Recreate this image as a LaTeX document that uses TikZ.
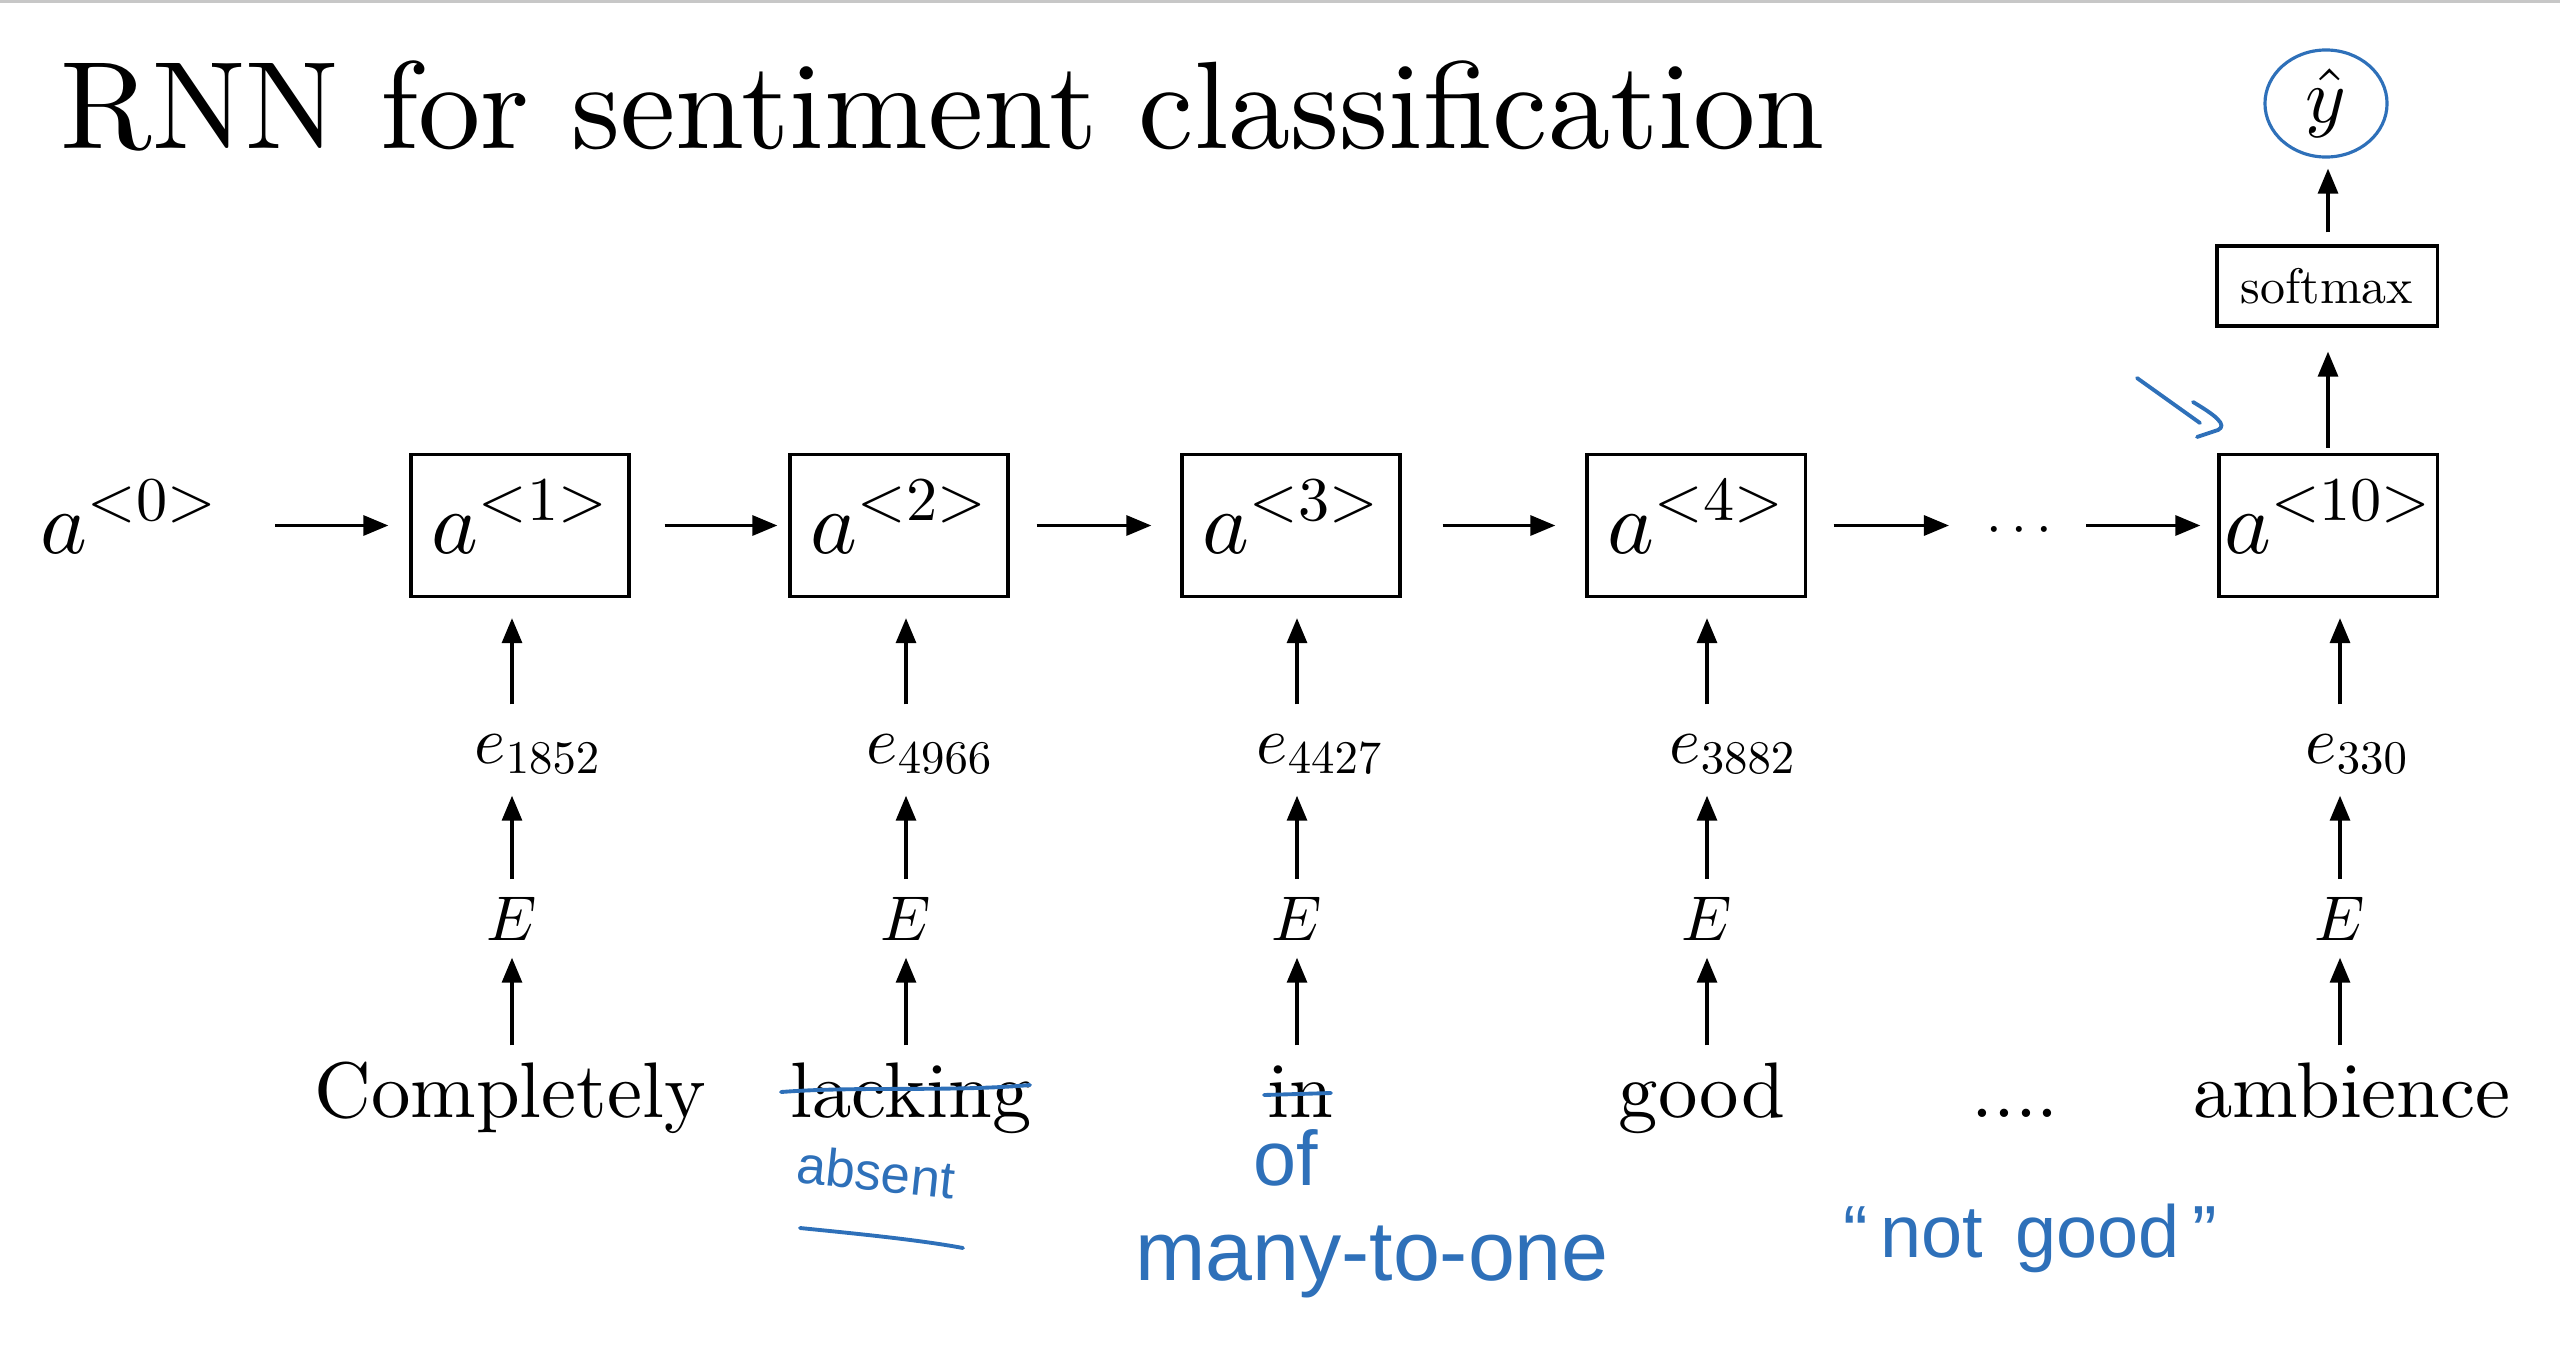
\documentclass[tikz,border=0pt]{standalone}
\usepackage{fontspec}
\setmainfont{lmroman10-regular.otf}
\DeclareFontShape{OML}{cmm}{m}{it}{<->cmmi10}{}
\DeclareFontShape{OMS}{cmsy}{m}{n}{<->cmsy10}{}
\DeclareFontShape{OT1}{cmr}{m}{n}{<->cmr10}{}
\newfontfamily\handfont{Liberation Sans}
\usetikzlibrary{arrows.meta,shapes.geometric}
\definecolor{handblue}{RGB}{46,112,185}
\tikzset{
  rnnbox/.style={draw, line width=0.9pt, minimum width=2.18cm, minimum height=1.42cm,
    inner sep=0pt, text height=0.71cm, text depth=0.16cm, font=\fontsize{25.3}{30}\selectfont},
  arr/.style={-{Triangle[length=0.25cm,width=0.2cm]}, line width=0.9pt},
  word/.style={anchor=base, inner sep=0pt, text height=0.55cm, text depth=0.155cm,
    font=\fontsize{22.4}{27}\selectfont},
  emb/.style={anchor=base west, inner sep=0pt, text height=0.27cm, text depth=0.13cm,
    font=\fontsize{19}{23}\selectfont},
  Emat/.style={anchor=base, inner sep=0pt, font=\fontsize{18}{22}\selectfont},
  hand/.style={text=handblue, inner sep=0pt},
  handline/.style={draw=handblue, line width=1.1pt, line cap=round, line join=round},
}
\begin{document}
\begin{tikzpicture}[x=0.01cm,y=-0.01cm]
\useasboundingbox (0,0) rectangle (2560,1354);
\draw[black!22, line width=1.2pt] (0,1) -- (2560,1);

% title
\node[anchor=base west, inner sep=0pt, font=\fontsize{35.4}{42}\selectfont] (title) at (60,148)
  {RNN for sentiment classification};

% recurrent chain
\node[anchor=base west, inner sep=0pt, font=\fontsize{25.3}{30}\selectfont] (a0) at (40,553) {$a^{<0>}$};
\node[rnnbox] (b1) at (520,525.5) {$a^{<1>}$};
\node[rnnbox] (b2) at (899,525.5) {$a^{<2>}$};
\node[rnnbox] (b3) at (1291,525.5) {$a^{<3>}$};
\node[rnnbox] (b4) at (1696,525.5) {$a^{<4>}$};
\node[anchor=base, inner sep=0pt, font=\fontsize{16}{20}\selectfont] (dots) at (2019.5,543) {$\cdots$};
\node[rnnbox] (b10) at (2328,525.5) {$a^{<10>}$};

\draw[arr, shorten <=0.57cm, shorten >=0.21cm] (a0.east |- b1.west) -- (b1.west);
\draw[arr, shorten <=0.34cm, shorten >=0.11cm] (b1.east) -- (b2.west);
\draw[arr, shorten <=0.27cm, shorten >=0.29cm] (b2.east) -- (b3.west);
\draw[arr, shorten <=0.41cm, shorten >=0.30cm] (b3.east) -- (b4.west);
\draw[arr, shorten <=0.27cm, shorten >=0.37cm] (b4.east) -- (b4.east -| dots.west);
\draw[arr, shorten <=0.33cm, shorten >=0.17cm] (b10.west -| dots.east) -- (b10.west);

% output
\node[draw, line width=0.9pt, minimum width=2.2cm, minimum height=0.8cm, inner sep=0pt,
  font=\fontsize{14.2}{17}\selectfont] (sm) at (2327,286) {softmax};
\node[ellipse, draw=handblue, line width=0.9pt, minimum width=1.22cm, minimum height=1.07cm,
  inner sep=0pt, font=\fontsize{22}{26}\selectfont] (yhat) at (2326,103.5) {$\hat{y}$};
\draw[arr, shorten <=0.05cm, shorten >=0.24cm] (b10.north) -- (b10.north |- sm.south);
\draw[arr, shorten <=0.12cm, shorten >=0.10cm] (b10.north |- sm.north) -- (b10.north |- yhat.south);

% embeddings
\node[emb] (e1) at (474,763) {$e_{1852}$};
\node[emb] (e2) at (866,763) {$e_{4966}$};
\node[emb] (e3) at (1256,763) {$e_{4427}$};
\node[emb] (e4) at (1669,763) {$e_{3882}$};
\node[emb] (e10) at (2305,763) {$e_{330}$};

\node[Emat] (E1) at (512,940) {$E$};
\node[Emat] (E2) at (906,940) {$E$};
\node[Emat] (E3) at (1297,940) {$E$};
\node[Emat] (E4) at (1707,940) {$E$};
\node[Emat] (E10) at (2340,940) {$E$};

% words
\node[word] (w1) at (510,1117) {Completely};
\node[word] (w2) at (911,1117) {lacking};
\node[word] (w3) at (1300,1117) {in};
\node[word] (w4) at (1702,1117) {good};
\node[word] (wd) at (2015,1117) {....};
\node[word] (w10) at (2352,1117) {ambience};

\foreach \i in {1,2,3,4,10}{
  \draw[arr, shorten <=0.16cm, shorten >=0.17cm] (E\i.south |- w\i.north) -- (E\i.south);
  \draw[arr, shorten <=0.17cm, shorten >=0.19cm] (E\i.north) -- (E\i.north |- e\i.south);
  \draw[arr, shorten <=0.31cm, shorten >=0.20cm] (E\i.north |- e\i.north) -- (E\i.north |- b\i.south);
}

% handwritten annotations
\draw[handline] (781,1092) .. controls (860,1086) and (950,1092) .. (1030,1085);
\draw[handline] (1264,1095) -- (1331,1093);
\node[hand, rotate=-6, font=\handfont\fontsize{15}{18}\selectfont] (absent) at (876,1172) {absent};
\draw[handline] (800,1228) .. controls (860,1234) and (920,1240) .. (963,1248);
\node[hand, font=\handfont\fontsize{22}{26}\selectfont] (of) at (1286,1158) {of};
\node[hand, font=\handfont\fontsize{24}{28}\selectfont] (many) at (1372,1262) {many-to-one};
\node[hand, font=\handfont\fontsize{21}{26}\selectfont] (notgood) at (2030,1238) {“\,not \,good\,”};
\draw[handline] (2137,378) -- (2200,423);
\draw[handline] (2193,402) .. controls (2215,415) and (2228,425) .. (2218,430) -- (2197,437);
\end{tikzpicture}
\end{document}
